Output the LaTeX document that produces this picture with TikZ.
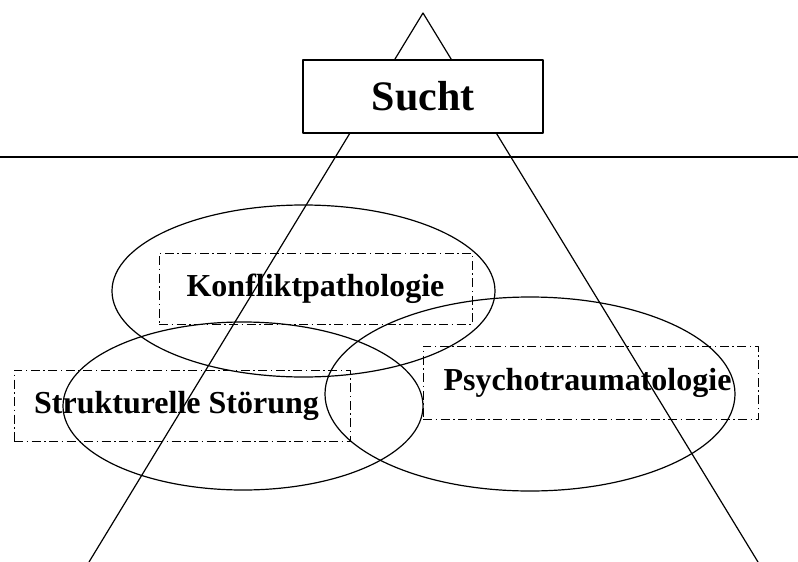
\documentclass[tikz,border=0pt]{standalone}
\usepackage{fontspec}
\setmainfont{Liberation Serif}
\begin{document}
\begin{tikzpicture}[x=1pt, y=-1pt, line join=round, line cap=round,
  kreis/.style={draw, line width=1.2pt},
  feld/.style={draw, line width=1pt, line cap=butt, dash pattern=on 9pt off 3.5pt on 1.5pt off 3.5pt, inner sep=0pt, minimum height=71pt, font=\fontsize{32}{36}\selectfont\bfseries},
  titel/.style={draw, fill=white, line width=1.8pt, inner sep=0pt, minimum width=240pt, minimum height=73pt, font=\fontsize{42}{48}\selectfont\bfseries}]
\useasboundingbox (0,0) rectangle (798,562);
% Dreieck hinter dem Titel
\coordinate (spitze) at (423,13);
\coordinate (fussL) at (89,562);
\coordinate (fussR) at (758,562);
\draw[line width=1.2pt] (fussL) -- (spitze) -- (fussR);
% Trennlinie
\coordinate (linksH) at (0,157);
\coordinate (rechtsH) at (798,157);
\draw[line width=1.2pt] (linksH) -- (rechtsH);
% Die drei Ellipsen
\draw[kreis] (303.5,291) ellipse (191.5 and 86);
\draw[kreis] (243,406) ellipse (180 and 84);
\draw[kreis] (530,394) ellipse (205 and 97);
% Titel
\node[titel] (sucht) at (423,96.5) {Sucht};
% Beschriftungen (strichpunktiert)
\node[feld, minimum width=313pt] (konflikt) at (315.5,288.5) {Konfliktpathologie};
\node[feld, minimum width=336pt] (struktur) at (182,405.5) {\hspace*{-11pt}Strukturelle Störung};
\node[feld, minimum width=335pt, minimum height=73pt] (trauma) at (590.5,382.5) {\hspace*{-6pt}\raisebox{4pt}{Psychotraumatologie}};
\end{tikzpicture}
\end{document}
